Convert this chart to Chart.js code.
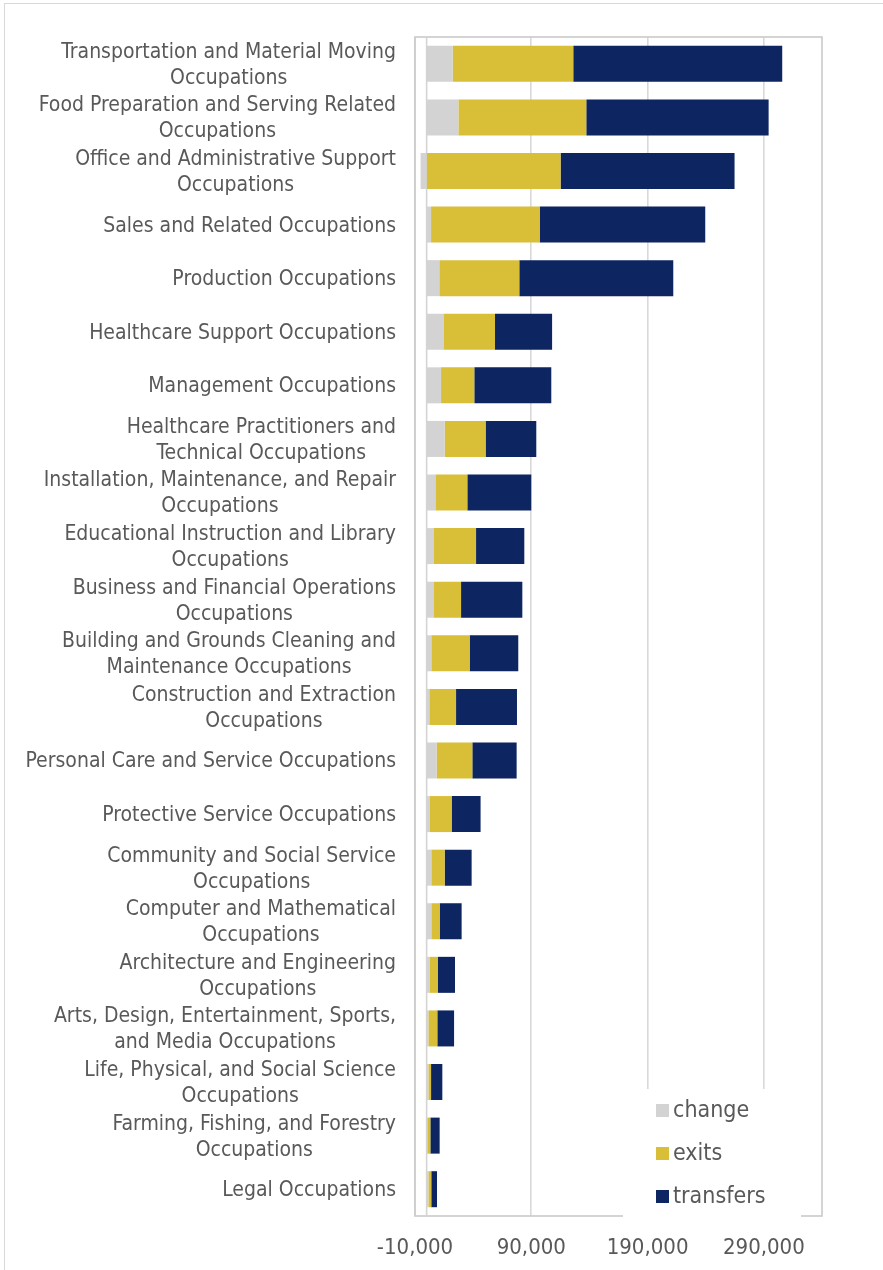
<!DOCTYPE html>
<html>
<head>
<meta charset="utf-8">
<title>Occupational openings: change, exits and transfers</title>
<script src="https://cdn.jsdelivr.net/npm/chart.js@4/dist/chart.umd.min.js"></script>
<style>
  html, body { margin: 0; padding: 0; background: #ffffff; }
  #wrap { position: relative; width: 883px; height: 1270px; overflow: hidden; }
  canvas { position: absolute; left: 0; top: 0; }
</style>
</head>
<body>
<div id="wrap"><canvas id="chart" width="883" height="1270"></canvas></div>
<script>
// Occupation groups, top to bottom (multi-line labels as arrays)
const categories = [
  ["Transportation and Material Moving", "Occupations"],
  ["Food Preparation and Serving Related", "Occupations"],
  ["Office and Administrative Support", "Occupations"],
  "Sales and Related Occupations",
  "Production Occupations",
  "Healthcare Support Occupations",
  "Management Occupations",
  ["Healthcare Practitioners and", "Technical Occupations"],
  ["Installation, Maintenance, and Repair", "Occupations"],
  ["Educational Instruction and Library", "Occupations"],
  ["Business and Financial Operations", "Occupations"],
  ["Building and Grounds Cleaning and", "Maintenance Occupations"],
  ["Construction and Extraction", "Occupations"],
  "Personal Care and Service Occupations",
  "Protective Service Occupations",
  ["Community and Social Service", "Occupations"],
  ["Computer and Mathematical", "Occupations"],
  ["Architecture and Engineering", "Occupations"],
  ["Arts, Design, Entertainment, Sports,", "and Media Occupations"],
  ["Life, Physical, and Social Science", "Occupations"],
  ["Farming, Fishing, and Forestry", "Occupations"],
  "Legal Occupations"
];

// Employment change per occupation group
const change = [
  22400, 27300, -5200, 3800, 10900, 14400, 12400, 15500, 7500, 5800, 5800,
  4000, 2300, 8600, 2900, 4000, 4000, 2900, 1500, 1500, 600, 1500
];

// Openings from workers leaving the labor force
const exits = [
  103700, 110000, 115200, 93400, 68800, 44400, 28600, 35200, 27500, 36700, 23800,
  33000, 23000, 30700, 18600, 11500, 7200, 6900, 7700, 2300, 2600, 2500
];

// Openings from workers moving to other occupations
const transfers = [
  179700, 156800, 149600, 142400, 132400, 49100, 66200, 43600, 55000, 41500, 52700,
  41800, 52400, 38100, 24900, 23200, 18900, 14600, 14400, 9700, 8000, 4900
];

// Value axis
const xMin = -10000;
const xMax = 340000;
const xTicks = [-10000, 90000, 190000, 290000];

const TEXT = '#595959';
const FONT = '"DejaVu Sans Condensed", "DejaVu Sans", sans-serif';

// Outer frame, plot frame and the zero line
const framePlugin = {
  id: 'frames',
  beforeDraw(chart) {
    const ctx = chart.ctx;
    ctx.save();
    ctx.strokeStyle = '#d9d9d9';
    ctx.lineWidth = 1;
    ctx.strokeRect(4.5, 3.5, chart.width + 10, chart.height + 10);
    ctx.restore();
  },
  beforeDatasetsDraw(chart) {
    const { ctx, chartArea: a, scales } = chart;
    ctx.save();
    ctx.strokeStyle = '#cacaca';
    ctx.lineWidth = 1.6;
    ctx.strokeRect(a.left, a.top, a.right - a.left, a.bottom - a.top);
    const x0 = scales.x.getPixelForValue(0);
    ctx.strokeStyle = '#d4d4d4';
    ctx.beginPath();
    ctx.moveTo(x0, a.top);
    ctx.lineTo(x0, a.bottom);
    ctx.stroke();
    ctx.restore();
  }
};

// Category labels: each block right-aligned, its lines centred on each other
const categoryLabelPlugin = {
  id: 'categoryLabels',
  afterDraw(chart) {
    const { ctx, scales } = chart;
    const yScale = scales.y;
    const right = chart.chartArea.left - 19;
    const lineH = 26;
    ctx.save();
    ctx.font = '21px ' + FONT;
    ctx.fillStyle = TEXT;
    ctx.textAlign = 'center';
    ctx.textBaseline = 'middle';
    chart.data.labels.forEach((lab, i) => {
      const lines = Array.isArray(lab) ? lab : [lab];
      const w = Math.max(...lines.map(s => ctx.measureText(s).width));
      const cx = right - w / 2;
      const cy = yScale.getPixelForValue(i) + 1.5;
      lines.forEach((s, k) => {
        ctx.fillText(s, cx, cy + (k - (lines.length - 1) / 2) * lineH);
      });
    });
    ctx.restore();
  }
};

// Legend box sitting in the lower right of the plot
const legendPlugin = {
  id: 'boxLegend',
  afterDraw(chart) {
    const ctx = chart.ctx;
    ctx.save();
    ctx.fillStyle = '#ffffff';
    ctx.fillRect(623, 1089, 178, 132);
    ctx.font = '23px ' + FONT;
    ctx.textAlign = 'left';
    ctx.textBaseline = 'middle';
    chart.data.datasets.forEach((ds, i) => {
      const cy = 1110.5 + i * 43;
      ctx.fillStyle = ds.backgroundColor;
      ctx.fillRect(656, cy - 6.5, 13, 13);
      ctx.fillStyle = TEXT;
      ctx.fillText(ds.label, 673, cy + 1);
    });
    ctx.restore();
  }
};

new Chart(document.getElementById('chart'), {
  type: 'bar',
  data: {
    labels: categories,
    datasets: [
      { label: 'change', data: change, backgroundColor: '#d3d3d3' },
      { label: 'exits', data: exits, backgroundColor: '#d9bf38' },
      { label: 'transfers', data: transfers, backgroundColor: '#0d2561' }
    ]
  },
  options: {
    indexAxis: 'y',
    responsive: false,
    animation: false,
    devicePixelRatio: 1,
    layout: { padding: { top: 37, right: 61, left: 0, bottom: 0 } },
    datasets: { bar: { categoryPercentage: 1, barPercentage: 0.672, borderWidth: 0 } },
    plugins: { legend: { display: false }, tooltip: { enabled: false } },
    scales: {
      x: {
        stacked: true,
        min: xMin,
        max: xMax,
        afterBuildTicks(scale) { scale.ticks = xTicks.map(v => ({ value: v })); },
        afterFit(scale) { scale.height = 54; },
        grid: { color: '#d9d9d9', lineWidth: 1.6, drawTicks: false },
        border: { display: false },
        ticks: {
          color: TEXT,
          padding: 19,
          maxRotation: 0,
          autoSkip: false,
          font: { family: FONT, size: 22 },
          callback: v => Number(v).toLocaleString('en-US')
        }
      },
      y: {
        stacked: true,
        afterFit(scale) { scale.width = 415; },
        grid: { display: false },
        border: { display: false },
        ticks: { display: false }
      }
    }
  },
  plugins: [framePlugin, categoryLabelPlugin, legendPlugin]
});
</script>
</body>
</html>
